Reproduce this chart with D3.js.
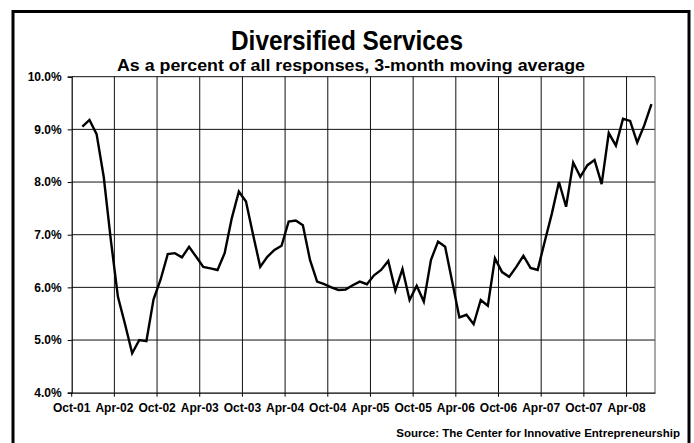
<!DOCTYPE html>
<html><head><meta charset="utf-8">
<script src="https://cdn.jsdelivr.net/npm/d3@7"></script>
<style>
html,body{margin:0;padding:0;background:#fff;}
svg{display:block;font-family:"Liberation Sans",Arial,sans-serif;}
</style></head>
<body>
<svg id="chart" width="694" height="443"></svg>
<script>
// Month categories on the axis (Oct-01 .. Jul-08)
const monthNames = ["Jan","Feb","Mar","Apr","May","Jun","Jul","Aug","Sep","Oct","Nov","Dec"];
const axisMonths = [];
for (let y = 2001, m = 9; !(y === 2008 && m === 7); ) {
  axisMonths.push(monthNames[m] + "-" + String(y % 100).padStart(2, "0"));
  m++; if (m === 12) { m = 0; y++; }
}
// Data months Nov-01 .. Jul-08
const dataMonths = axisMonths.slice(1);
const values = [
  9.05, 9.18, 8.91, 8.10, 6.90, 5.82, 5.30, 4.75, 5.00, 4.98,
  5.77, 6.15, 6.63, 6.65, 6.57, 6.77, 6.58, 6.39, 6.36, 6.33,
  6.65, 7.31, 7.82, 7.63, 7.00, 6.39, 6.58, 6.71, 6.79, 7.25,
  7.27, 7.18, 6.52, 6.11, 6.06, 6.00, 5.95, 5.96, 6.04, 6.11,
  6.06, 6.23, 6.33, 6.50, 5.94, 6.35, 5.76, 6.03, 5.73, 6.52,
  6.87, 6.77, 6.10, 5.43, 5.48, 5.30, 5.76, 5.65, 6.55, 6.29,
  6.20, 6.39, 6.60, 6.37, 6.33, 6.87, 7.40, 8.00, 7.53, 8.37,
  8.10, 8.32, 8.42, 7.96, 8.93, 8.69, 9.20, 9.16, 8.75, 9.08,
  9.48
];
const tickLabels = ["Oct-01","Apr-02","Oct-02","Apr-03","Oct-03","Apr-04","Oct-04",
  "Apr-05","Oct-05","Apr-06","Oct-06","Apr-07","Oct-07","Apr-08"];
const yTicks = [4, 5, 6, 7, 8, 9, 10];

const title = "Diversified Services";
const subtitle = "As a percent of all responses, 3-month moving average";
const source = "Source: The Center for Innovative Entrepreneurship";

const svg = d3.select("#chart");
const L = 71.7, R = 655, T = 76.7, B = 392.7;

const x = d3.scaleBand().domain(axisMonths).range([L, R]).paddingInner(0).paddingOuter(0);
const y = d3.scaleLinear().domain([4, 10]).range([B, T]);
const bw = x.bandwidth();

// outer border
svg.append("rect").attr("x", 13).attr("y", 11.5).attr("width", 676).attr("height", 440)
  .attr("fill", "none").attr("stroke", "#000").attr("stroke-width", 3);

// gridlines
const g = svg.append("g");
g.selectAll("line.hg").data(yTicks.filter(d => d > 4)).enter().append("line")
  .attr("x1", L).attr("x2", R).attr("y1", d => y(d)).attr("y2", d => y(d))
  .attr("stroke", "#111").attr("stroke-width", 1);
g.selectAll("line.vg").data(tickLabels.slice(1)).enter().append("line")
  .attr("x1", d => x(d)).attr("x2", d => x(d)).attr("y1", T).attr("y2", B)
  .attr("stroke", "#111").attr("stroke-width", 1);
g.append("line").attr("x1", R).attr("x2", R).attr("y1", T).attr("y2", B)
  .attr("stroke", "#555").attr("stroke-width", 1);

// y axis
const yAxis = d3.axisLeft(y).tickValues(yTicks).tickSize(4).tickPadding(6)
  .tickFormat(d => d3.format(".1f")(d) + "%");
const ya = svg.append("g").attr("transform", `translate(${L},0)`).call(yAxis);
ya.select(".domain").attr("stroke", "#000").attr("stroke-width", 1.2);
ya.selectAll(".tick line").attr("stroke", "#000");
ya.selectAll("text").attr("font-size", 12).attr("font-weight", "bold").attr("fill", "#000")
  .attr("font-family", "Liberation Sans, Arial, sans-serif");

// x axis
const xAxis = d3.axisBottom(x).tickValues(tickLabels).tickSize(4).tickPadding(7).tickSizeOuter(0);
const xa = svg.append("g").attr("transform", `translate(0,${B})`).call(xAxis);
xa.selectAll(".tick").attr("transform", d => `translate(${x(d)},0)`);
xa.select(".domain").attr("stroke", "#000").attr("stroke-width", 1.2);
xa.selectAll(".tick line").attr("stroke", "#000");
xa.selectAll("text").attr("font-size", 12).attr("font-weight", "bold").attr("fill", "#000")
  .attr("font-family", "Liberation Sans, Arial, sans-serif");

// line
const line = d3.line().x((d, i) => x(dataMonths[i]) + bw / 2).y(d => y(d));
svg.append("path").datum(values).attr("d", line)
  .attr("fill", "none").attr("stroke", "#000").attr("stroke-width", 2.4)
  .attr("stroke-linejoin", "miter");

// titles
svg.append("text").attr("x", 347).attr("y", 50).attr("text-anchor", "middle")
  .attr("font-size", 27).attr("font-weight", "bold").attr("textLength", 232)
  .attr("lengthAdjust", "spacingAndGlyphs").text(title);
svg.append("text").attr("x", 351).attr("y", 71).attr("text-anchor", "middle")
  .attr("font-size", 17).attr("font-weight", "bold").attr("textLength", 468)
  .attr("lengthAdjust", "spacingAndGlyphs").text(subtitle);
svg.append("text").attr("x", 680).attr("y", 437).attr("text-anchor", "end")
  .attr("font-size", 11.5).attr("font-weight", "bold").text(source);
</script>
</body></html>
